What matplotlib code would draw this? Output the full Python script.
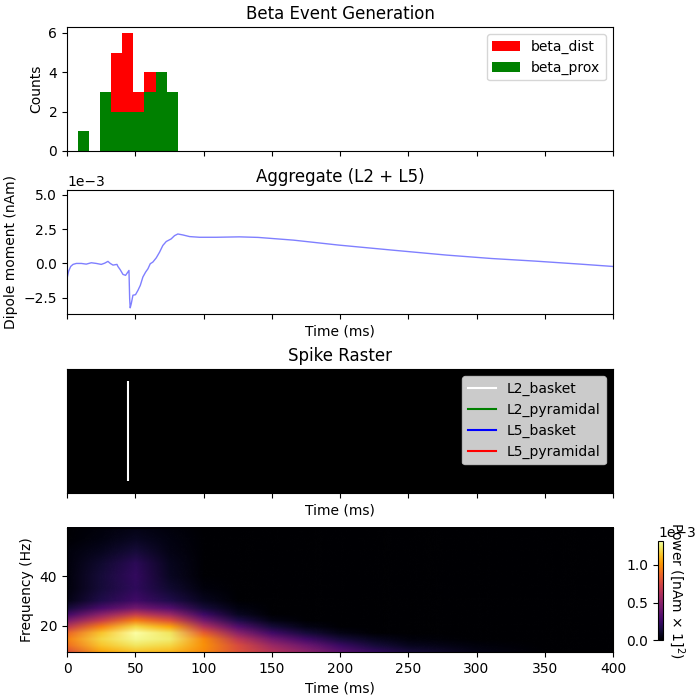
import numpy as np
import matplotlib
matplotlib.use("Agg")
import matplotlib.pyplot as plt
from matplotlib.image import NonUniformImage

# histogram of input events (bin edges in ms, counts per bin)
bin_edges = [7.8, 15.96, 24.12, 32.28, 40.44, 48.6, 56.76, 64.92, 73.08, 81.24]
beta_dist = [0, 0, 0, 5, 6, 3, 4, 0, 0]
beta_prox = [1, 0, 3, 2, 2, 2, 3, 4, 3]

# aggregate dipole (ms, nAm)
dpl_times = [0, 1.2, 2.7, 4.4, 6.8, 10.5, 14.1, 17.8, 21.5, 25.1, 27.6, 30, 31.7,
             33.7, 36.6, 37.3, 39, 41, 42.9, 44.1, 45.4, 45.9, 46.3, 47.1, 48.3,
             50.2, 52, 53.7, 55.6, 57.6, 59.3, 61, 62.9, 65.4, 67.8, 70.2, 72.7,
             76.3, 78.8, 81.2, 84.9, 89.8, 97.1, 109.3, 126.3, 140, 166, 199,
             238.5, 278, 311, 343, 376, 400]
dpl_vals = [-1.11, -0.56, -0.22, -0.07, 0.0, 0.0, -0.05, 0.05, 0.0, -0.07, 0.02,
            0.15, 0.0, -0.12, -0.07, -0.22, -0.46, -0.8, -0.87, -0.7, -0.51,
            -2.57, -3.24, -2.93, -2.32, -2.28, -1.96, -1.6, -0.99, -0.63, -0.39,
            -0.02, 0.1, 0.41, 0.82, 1.31, 1.6, 1.79, 2.03, 2.15, 2.08, 1.96,
            1.91, 1.91, 1.94, 1.9, 1.7, 1.34, 0.97, 0.61, 0.36, 0.17, -0.05, -0.22]
dpl_vals = np.array(dpl_vals) * 1e-3

# spikes
spike_types = ['L2_basket', 'L2_pyramidal', 'L5_basket', 'L5_pyramidal']
spike_colors = ['white', 'green', 'blue', 'red']
spike_times = [[44.5], [], [], []]

# time-frequency power (x 1e-3 nAm^2), rows = freqs, cols = times
tfr_times = [0, 25, 50, 75, 100, 125, 150, 175, 200, 225, 250, 300, 350, 400]
tfr_freqs = [9.5, 12, 14.5, 17, 19.5, 22, 24.5, 27, 30, 35, 40, 45, 50, 55, 59.5]
tfr_power = [
    [0.79, 1.06, 1.14, 1.11, 0.98, 0.79, 0.63, 0.50, 0.34, 0.22, 0.13, 0.05, 0.01, 0.0],
    [0.90, 1.14, 1.23, 1.19, 1.00, 0.77, 0.55, 0.40, 0.24, 0.13, 0.07, 0.03, 0.0, 0.0],
    [0.95, 1.19, 1.29, 1.25, 0.98, 0.66, 0.42, 0.26, 0.13, 0.07, 0.03, 0.0, 0.0, 0.0],
    [0.87, 1.14, 1.32, 1.23, 0.84, 0.50, 0.26, 0.13, 0.05, 0.01, 0.0, 0.0, 0.0, 0.0],
    [0.66, 0.95, 1.19, 1.06, 0.63, 0.32, 0.13, 0.05, 0.01, 0.0, 0.0, 0.0, 0.0, 0.0],
    [0.45, 0.71, 0.95, 0.79, 0.42, 0.17, 0.05, 0.01, 0.0, 0.0, 0.0, 0.0, 0.0, 0.0],
    [0.26, 0.50, 0.69, 0.55, 0.25, 0.08, 0.01, 0.0, 0.0, 0.0, 0.0, 0.0, 0.0, 0.0],
    [0.13, 0.29, 0.42, 0.32, 0.13, 0.04, 0.0, 0.0, 0.0, 0.0, 0.0, 0.0, 0.0, 0.0],
    [0.05, 0.17, 0.26, 0.17, 0.07, 0.01, 0.0, 0.0, 0.0, 0.0, 0.0, 0.0, 0.0, 0.0],
    [0.03, 0.13, 0.21, 0.11, 0.03, 0.0, 0.0, 0.0, 0.0, 0.0, 0.0, 0.0, 0.0, 0.0],
    [0.03, 0.13, 0.22, 0.08, 0.01, 0.0, 0.0, 0.0, 0.0, 0.0, 0.0, 0.0, 0.0, 0.0],
    [0.03, 0.11, 0.20, 0.07, 0.01, 0.0, 0.0, 0.0, 0.0, 0.0, 0.0, 0.0, 0.0, 0.0],
    [0.03, 0.07, 0.13, 0.05, 0.01, 0.0, 0.0, 0.0, 0.0, 0.0, 0.0, 0.0, 0.0, 0.0],
    [0.01, 0.04, 0.08, 0.04, 0.01, 0.0, 0.0, 0.0, 0.0, 0.0, 0.0, 0.0, 0.0, 0.0],
    [0.01, 0.03, 0.05, 0.03, 0.0, 0.0, 0.0, 0.0, 0.0, 0.0, 0.0, 0.0, 0.0, 0.0],
]
tfr_power = np.array(tfr_power) * 1e-3

fig, axes = plt.subplots(4, 1, sharex=True, figsize=(7, 7), dpi=100)

def px_pos(top, bottom, left=67, right=613):
    return [left / 700, (700 - bottom) / 700, (right - left) / 700, (bottom - top) / 700]

axes[0].set_position(px_pos(27, 151))
axes[1].set_position(px_pos(190, 314))
axes[2].set_position(px_pos(369, 493))
axes[3].set_position(px_pos(528, 652))

# event histogram
centers = (np.array(bin_edges[:-1]) + np.array(bin_edges[1:])) / 2
ax = axes[0]
ax.hist(centers, bins=bin_edges, weights=beta_dist, color='red', label='beta_dist')
ax.hist(centers, bins=bin_edges, weights=beta_prox, color='green', label='beta_prox')
ax.set_ylabel('Counts')
ax.set_title('Beta Event Generation')
ax.set_yticks([0, 2, 4, 6])
ax.legend(loc='upper right')

# dipole
ax = axes[1]
ax.plot(dpl_times, dpl_vals, color='blue', alpha=0.5, lw=1)
ax.set_ylim(-3.69e-3, 5.36e-3)
ax.set_yticks([-2.5e-3, 0, 2.5e-3, 5e-3])
ax.ticklabel_format(axis='y', style='sci', scilimits=(-2, 2))
ax.set_xlabel('Time (ms)')
ax.set_ylabel('Dipole moment (nAm)')
ax.set_title('Aggregate (L2 + L5)')

# raster
ax = axes[2]
ax.set_facecolor('black')
for name, col, st in zip(spike_types, spike_colors, spike_times):
    ax.eventplot([st], colors=col, lineoffsets=0.5, linelengths=0.806, linewidths=1.5)
    ax.plot([], [], color=col, label=name)
ax.set_ylim(0, 1)
ax.set_yticks([])
ax.set_xlabel('Time (ms)')
ax.set_title('Spike Raster')
ax.legend(loc='upper right')

# tfr
ax = axes[3]
im = NonUniformImage(ax, interpolation='bilinear', cmap='inferno',
                     extent=(0, 400, 9.5, 59.5))
im.set_data(tfr_times, tfr_freqs, tfr_power)
im.set_clim(0, tfr_power.max())
ax.add_image(im)
ax.set_ylim(9.5, 59.5)
ax.set_xlim(0, 400)
ax.set_xticks(np.arange(0, 401, 50))
ax.set_yticks([20, 40])
ax.set_xlabel('Time (ms)')
ax.set_ylabel('Frequency (Hz)')

cax = fig.add_axes(px_pos(541, 640, 658, 663))
cbar = fig.colorbar(im, cax=cax)
cbar.set_ticks([0, 0.5e-3, 1e-3])
cbar.formatter.set_powerlimits((-2, 2))
cax.yaxis.set_ticks_position('left')
cbar.set_label('Power ([nAm × 1]$^2$)', rotation=270, labelpad=17)
cbar.update_ticks()

fig.savefig('out.png', dpi=100)
